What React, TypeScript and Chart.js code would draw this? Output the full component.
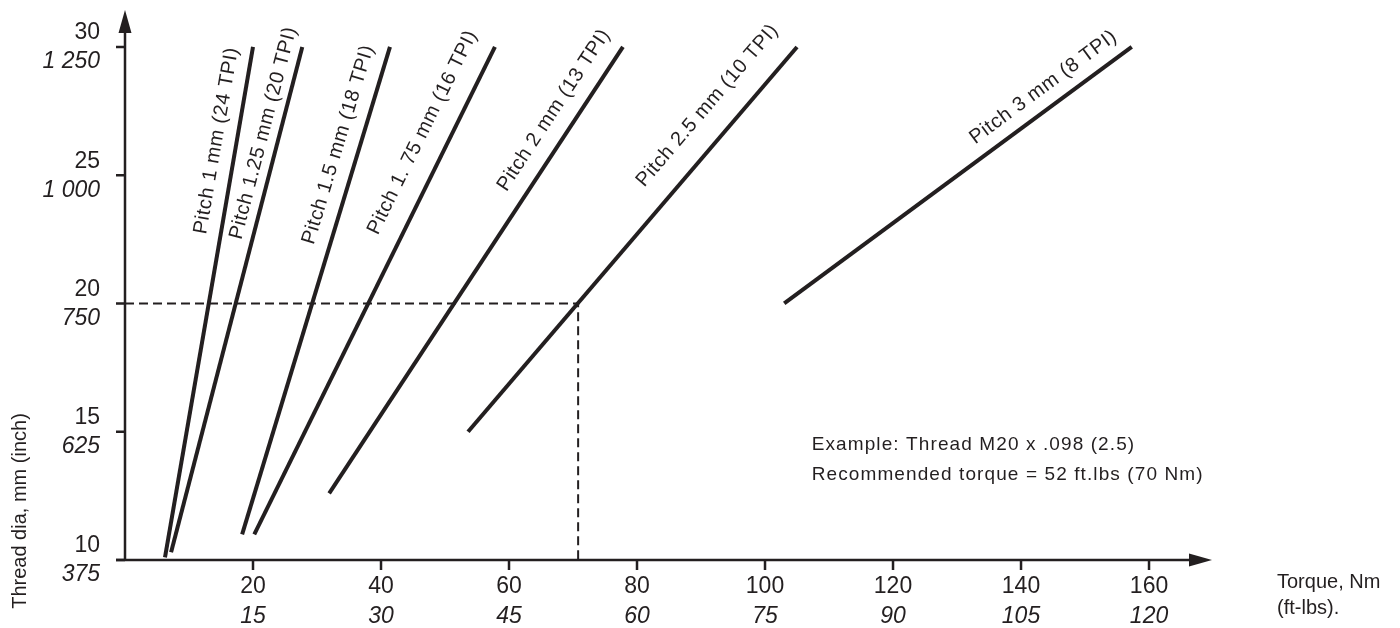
import React, { useEffect, useRef } from "react";
import { Chart, registerables } from "chart.js";

Chart.register(...registerables);

// ---- data ----
const pitchLabels = [
  "Pitch 1 mm (24 TPI)",
  "Pitch 1.25 mm (20 TPI)",
  "Pitch 1.5 mm (18 TPI)",
  "Pitch 1. 75 mm (16 TPI)",
  "Pitch 2 mm (13 TPI)",
  "Pitch 2.5 mm (10 TPI)",
  "Pitch 3 mm (8 TPI)",
];
const startTorque = [6.25, 7.2, 18.3, 20.2, 31.9, 53.6, 103.0];
const startDia = [10.1, 10.3, 11.0, 11.0, 12.6, 15.0, 20.0];
const endTorque = [20.0, 27.7, 41.4, 57.8, 77.8, 105.0, 157.3];
const endDia = [30, 30, 30, 30, 30, 30, 30];

const exampleTorque = 70.8;
const exampleDia = 20;

const xTickValues = [20, 40, 60, 80, 100, 120, 140, 160];
const xTickNm = ["20", "40", "60", "80", "100", "120", "140", "160"];
const xTickFtLbs = ["15", "30", "45", "60", "75", "90", "105", "120"];

const yTickValues = [10, 15, 20, 25, 30];
const yTickMm = ["10", "15", "20", "25", "30"];
const yTickInch = ["375", "625", "750", "1 000", "1 250"];

const noteLines = [
  "Example: Thread M20 x .098 (2.5)",
  "Recommended torque = 52 ft.lbs (70 Nm)",
];

// ---- style ----
const INK = "#231f20";
const FONT = "'Liberation Sans', Arial, Helvetica, sans-serif";
const labelAlong = [0.81, 0.822, 0.787, 0.80, 0.83, 0.797, 0.78];
const labelOffset = [20, 16, 21, 27, 23, 30, 20];

const overlayPlugin = {
  id: "overlay",
  afterDatasetsDraw(chart: any) {
    const ctx = chart.ctx as CanvasRenderingContext2D;
    const xs = chart.scales.x;
    const ys = chart.scales.y;
    const area = chart.chartArea;
    const x0 = xs.getPixelForValue(0);
    const y0 = ys.getPixelForValue(10);
    ctx.save();
    ctx.strokeStyle = INK;
    ctx.fillStyle = INK;
    ctx.lineWidth = 2.5;
    ctx.lineCap = "butt";

    // axes
    ctx.beginPath();
    ctx.moveTo(x0 - 9, y0);
    ctx.lineTo(area.right - 18, y0);
    ctx.moveTo(x0, y0 + 1);
    ctx.lineTo(x0, area.top + 18);
    ctx.stroke();
    // arrowheads
    ctx.beginPath();
    ctx.moveTo(area.right, y0);
    ctx.lineTo(area.right - 23, y0 - 6.5);
    ctx.lineTo(area.right - 23, y0 + 6.5);
    ctx.closePath();
    ctx.fill();
    ctx.beginPath();
    ctx.moveTo(x0, area.top);
    ctx.lineTo(x0 - 6.5, area.top + 23);
    ctx.lineTo(x0 + 6.5, area.top + 23);
    ctx.closePath();
    ctx.fill();

    // tick marks
    ctx.beginPath();
    yTickValues.forEach((v) => {
      const py = ys.getPixelForValue(v);
      ctx.moveTo(x0 - 9, py);
      ctx.lineTo(x0, py);
    });
    xTickValues.forEach((v) => {
      const px = xs.getPixelForValue(v);
      ctx.moveTo(px, y0);
      ctx.lineTo(px, y0 + 10);
    });
    ctx.stroke();

    // tick labels
    ctx.textBaseline = "middle";
    ctx.textAlign = "right";
    yTickValues.forEach((v, i) => {
      const py = ys.getPixelForValue(v);
      ctx.font = `23px ${FONT}`;
      ctx.fillText(yTickMm[i], x0 - 25, py - 14);
      ctx.font = `italic 23px ${FONT}`;
      ctx.fillText(yTickInch[i], x0 - 25, py + 15);
    });
    ctx.textAlign = "center";
    xTickValues.forEach((v, i) => {
      const px = xs.getPixelForValue(v);
      ctx.font = `23px ${FONT}`;
      ctx.fillText(xTickNm[i], px, y0 + 27);
      ctx.font = `italic 23px ${FONT}`;
      ctx.fillText(xTickFtLbs[i], px, y0 + 57);
    });

    // axis titles
    ctx.font = `20px ${FONT}`;
    ctx.textAlign = "left";
    ctx.fillText("Torque, Nm", area.right + 65, y0 + 22);
    ctx.fillText("(ft-lbs).", area.right + 65, y0 + 48);
    ctx.save();
    ctx.translate(20, y0 - 49);
    ctx.rotate(-Math.PI / 2);
    ctx.textAlign = "center";
    ctx.fillText("Thread dia, mm (inch)", 0, 0);
    ctx.restore();

    // line labels
    ctx.font = `20px ${FONT}`;
    (ctx as any).letterSpacing = "0.6px";
    ctx.textAlign = "center";
    ctx.textBaseline = "middle";
    for (let i = 0; i < pitchLabels.length; i++) {
      const meta = chart.getDatasetMeta(i);
      const p0 = meta.data[0];
      const p1 = meta.data[1];
      const dx = p1.x - p0.x;
      const dy = p1.y - p0.y;
      const len = Math.hypot(dx, dy);
      const ux = dx / len;
      const uy = dy / len;
      const nx = uy;
      const ny = -ux;
      const t = labelAlong[i];
      const cx = p0.x + dx * t + nx * labelOffset[i];
      const cy = p0.y + dy * t + ny * labelOffset[i];
      ctx.save();
      ctx.translate(cx, cy);
      ctx.rotate(Math.atan2(dy, dx));
      ctx.fillText(pitchLabels[i], 0, 0);
      ctx.restore();
    }

    // note
    ctx.font = `19px ${FONT}`;
    (ctx as any).letterSpacing = "1.1px";
    ctx.textAlign = "left";
    const nx0 = xs.getPixelForValue(107.3);
    const ny0 = ys.getPixelForValue(14.5);
    noteLines.forEach((s, i) => ctx.fillText(s, nx0, ny0 + i * 30));
    (ctx as any).letterSpacing = "0px";
    ctx.restore();
  },
};

export default function App() {
  const ref = useRef<HTMLCanvasElement | null>(null);
  useEffect(() => {
    if (!ref.current) return;
    const datasets: any[] = pitchLabels.map((name, i) => ({
      label: name,
      data: [
        { x: startTorque[i], y: startDia[i] },
        { x: endTorque[i], y: endDia[i] },
      ],
      borderColor: INK,
      borderWidth: 4,
      pointRadius: 0,
      borderCapStyle: "butt",
      tension: 0,
      clip: false,
    }));
    datasets.push({
      label: "example",
      data: [
        { x: 0, y: exampleDia },
        { x: exampleTorque, y: exampleDia },
        { x: exampleTorque, y: 10 },
      ],
      borderColor: INK,
      borderWidth: 2,
      borderDash: [9, 5],
      pointRadius: 0,
      tension: 0,
      clip: false,
    });
    const chart = new Chart(ref.current, {
      type: "line",
      data: { datasets },
      options: {
        animation: false,
        responsive: false,
        devicePixelRatio: 1,
        layout: { padding: { left: 125, top: 10, right: 188, bottom: 68 } },
        plugins: { legend: { display: false }, tooltip: { enabled: false } },
        scales: {
          x: { type: "linear", min: 0, max: 169.84, display: false },
          y: { type: "linear", min: 10, max: 31.44, display: false },
        },
      },
      plugins: [overlayPlugin],
    } as any);
    return () => chart.destroy();
  }, []);
  return (
    <div style={{ position: "fixed", left: 0, top: 0, width: 1400, height: 628, background: "#fff" }}>
      <canvas ref={ref} width={1400} height={628} style={{ display: "block" }} />
    </div>
  );
}
